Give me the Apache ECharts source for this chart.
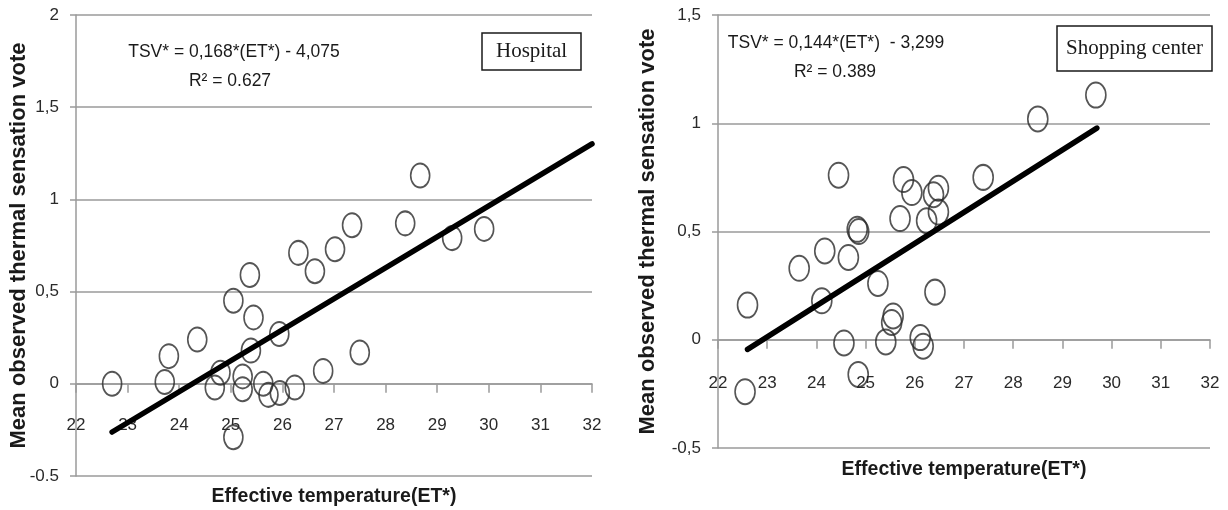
<!DOCTYPE html>
<html>
<head>
<meta charset="utf-8">
<script src="https://cdn.jsdelivr.net/npm/echarts@6/dist/echarts.min.js"></script>
<style>
  html, body { margin: 0; padding: 0; background: #fff; }
  #chart { width: 1228px; height: 510px; }
</style>
</head>
<body>
<div id="chart"></div>
<script>
// Hospital survey: effective temperature vs mean thermal sensation vote
const hospitalET  = [22.70, 23.72, 23.80, 24.35, 24.80, 24.69, 25.05, 25.05, 25.23, 25.23,
                     25.37, 25.44, 25.39, 25.63, 25.73, 25.95, 25.94, 26.24, 26.31, 26.63,
                     27.02, 27.35, 28.38, 28.67, 29.29, 29.91, 27.50, 26.79];
const hospitalTSV = [0.00, 0.01, 0.15, 0.24, 0.06, -0.02, 0.45, -0.29, 0.04, -0.03,
                     0.59, 0.36, 0.18, 0.00, -0.06, -0.05, 0.27, -0.02, 0.71, 0.61,
                     0.73, 0.86, 0.87, 1.13, 0.79, 0.84, 0.17, 0.07];

// Shopping center survey
const shoppingET  = [22.55, 22.60, 23.65, 24.11, 24.17, 24.45, 24.56, 24.65, 24.83, 24.86,
                     24.85, 25.25, 25.41, 25.56, 25.53, 25.70, 25.77, 25.94, 26.11, 26.17,
                     26.24, 26.38, 26.48, 26.48, 26.41, 27.39, 28.50, 29.68];
const shoppingTSV = [-0.24, 0.16, 0.33, 0.18, 0.41, 0.76, -0.015, 0.38, 0.51, 0.50,
                     -0.16, 0.26, -0.01, 0.11, 0.08, 0.56, 0.74, 0.68, 0.01, -0.03,
                     0.55, 0.67, 0.70, 0.59, 0.22, 0.75, 1.02, 1.13];

// Linear fits TSV* = a*ET* + b and the ET* span each fit line covers
const fitSlope     = [0.168, 0.144];
const fitIntercept = [-4.075, -3.299];
const fitSpanHospital = [22.7, 32];
const fitSpanShopping = [22.6, 29.7];

// Annotation texts
const equationTexts = ['TSV* = 0,168*(ET*) - 4,075', 'TSV* = 0,144*(ET*)  - 3,299'];
const r2Texts       = ['R² = 0.627', 'R² = 0.389'];
const panelNames    = ['Hospital', 'Shopping center'];

// Axis tick labels
const xTicks = [22, 23, 24, 25, 26, 27, 28, 29, 30, 31, 32];
const yTicksHospital  = [-0.5, 0, 0.5, 1, 1.5, 2];
const yLabelsHospital = ['-0.5', '0', '0,5', '1', '1,5', '2'];
const yTicksShopping  = [-0.5, 0, 0.5, 1, 1.5];
const yLabelsShopping = ['-0,5', '0', '0,5', '1', '1,5'];

const xTitle = 'Effective temperature(ET*)';
const yTitle = 'Mean observed thermal sensation vote';

const SANS = '"Liberation Sans", Arial, sans-serif';
const SERIF = '"Liberation Serif", "Times New Roman", serif';
const GRID_GREY = '#9a9a9a';

function pairs(xs, ys) { return xs.map((x, i) => [x, ys[i]]); }
function fitLine(k, span) {
  return span.map(x => [x, fitSlope[k] * x + fitIntercept[k]]);
}
function labelFor(ticks, labels) {
  return v => {
    const i = ticks.findIndex(t => Math.abs(t - v) < 1e-9);
    return i >= 0 ? labels[i] : '';
  };
}

// x labels sit a little below the zero line, the title below the plot
function xAxisCfg(gridIndex, labelMargin, nameGap) {
  return {
    type: 'value', gridIndex, min: 22, max: 32, interval: 1,
    name: xTitle, nameLocation: 'middle', nameGap, nameMoveOverlap: false,
    nameTextStyle: { fontFamily: SANS, fontWeight: 'bold', fontSize: 19.5, color: '#1a1a1a',
                     verticalAlign: 'top' },
    axisLine: { show: true, onZero: true, lineStyle: { color: GRID_GREY, width: 1.5 } },
    axisTick: { show: true, length: 9, lineStyle: { color: GRID_GREY, width: 1.5 } },
    axisLabel: { margin: labelMargin, fontFamily: SANS, fontSize: 17, color: '#2a2a2a',
                 formatter: v => xTicks.includes(v) ? String(v) : '' },
    splitLine: { show: false }
  };
}
function yAxisCfg(gridIndex, min, max, ticks, labels, nameGap) {
  return {
    type: 'value', gridIndex, min, max, interval: 0.5,
    name: yTitle, nameLocation: 'middle', nameGap, nameMoveOverlap: false,
    nameTextStyle: { fontFamily: SANS, fontWeight: 'bold', fontSize: 22, color: '#1a1a1a' },
    axisLine: { show: true, onZero: false, lineStyle: { color: GRID_GREY, width: 1.5 } },
    axisTick: { show: true, length: 6, lineStyle: { color: GRID_GREY, width: 1.5 } },
    axisLabel: { margin: 17, fontFamily: SANS, fontSize: 17, color: '#2a2a2a',
                 formatter: labelFor(ticks, labels) },
    splitLine: { show: true, lineStyle: { color: GRID_GREY, width: 1.5 } }
  };
}
function scatterCfg(k, data, size) {
  return {
    type: 'scatter', xAxisIndex: k, yAxisIndex: k, data,
    symbol: 'circle', symbolSize: size,
    itemStyle: { color: 'rgba(255,255,255,0)', borderColor: '#2b2b2b', borderWidth: 1.8 },
    z: 3, silent: true
  };
}
function lineCfg(k, data) {
  return {
    type: 'line', xAxisIndex: k, yAxisIndex: k, data,
    showSymbol: false, lineStyle: { color: '#000', width: 5.5, cap: 'round' },
    z: 4, silent: true, animation: false
  };
}
function textEl(text, x, y, size) {
  return {
    type: 'text', x, y,
    style: { text, fontFamily: SANS, fontSize: size, fill: '#1a1a1a', align: 'center', verticalAlign: 'middle' }
  };
}
function boxTitle(text, left, top, padV, padH) {
  return {
    text, left, top, padding: [padV, padH, padV, padH],
    borderColor: '#1a1a1a', borderWidth: 1.5,
    textStyle: { fontFamily: SERIF, fontWeight: 'normal', fontSize: 21, color: '#1a1a1a' }
  };
}

const chart = echarts.init(document.getElementById('chart'), null, { renderer: 'canvas' });
chart.setOption({
  animation: false,
  backgroundColor: '#fff',
  title: [boxTitle(panelNames[0], 482, 33, 8, 14), boxTitle(panelNames[1], 1057, 26, 12, 9)],
  grid: [
    { left: 76, top: 15, width: 516, height: 461, containLabel: false, outerBoundsMode: 'none' },
    { left: 718, top: 15, width: 492, height: 433, containLabel: false, outerBoundsMode: 'none' }
  ],
  xAxis: [xAxisCfg(0, -59, 11), xAxisCfg(1, -73, 12)],
  yAxis: [
    yAxisCfg(0, -0.5, 2, yTicksHospital, yLabelsHospital, 46),
    yAxisCfg(1, -0.5, 1.5, yTicksShopping, yLabelsShopping, 59)
  ],
  series: [
    scatterCfg(0, pairs(hospitalET, hospitalTSV), [19, 24]),
    lineCfg(0, fitLine(0, fitSpanHospital)),
    scatterCfg(1, pairs(shoppingET, shoppingTSV), [20, 25]),
    lineCfg(1, fitLine(1, fitSpanShopping))
  ],
  graphic: [
    textEl(equationTexts[0], 234, 52, 17.5),
    textEl(r2Texts[0], 230, 81, 17.5),
    textEl(equationTexts[1], 836, 43, 17.5),
    textEl(r2Texts[1], 835, 72, 17.5)
  ]
});
</script>
</body>
</html>
